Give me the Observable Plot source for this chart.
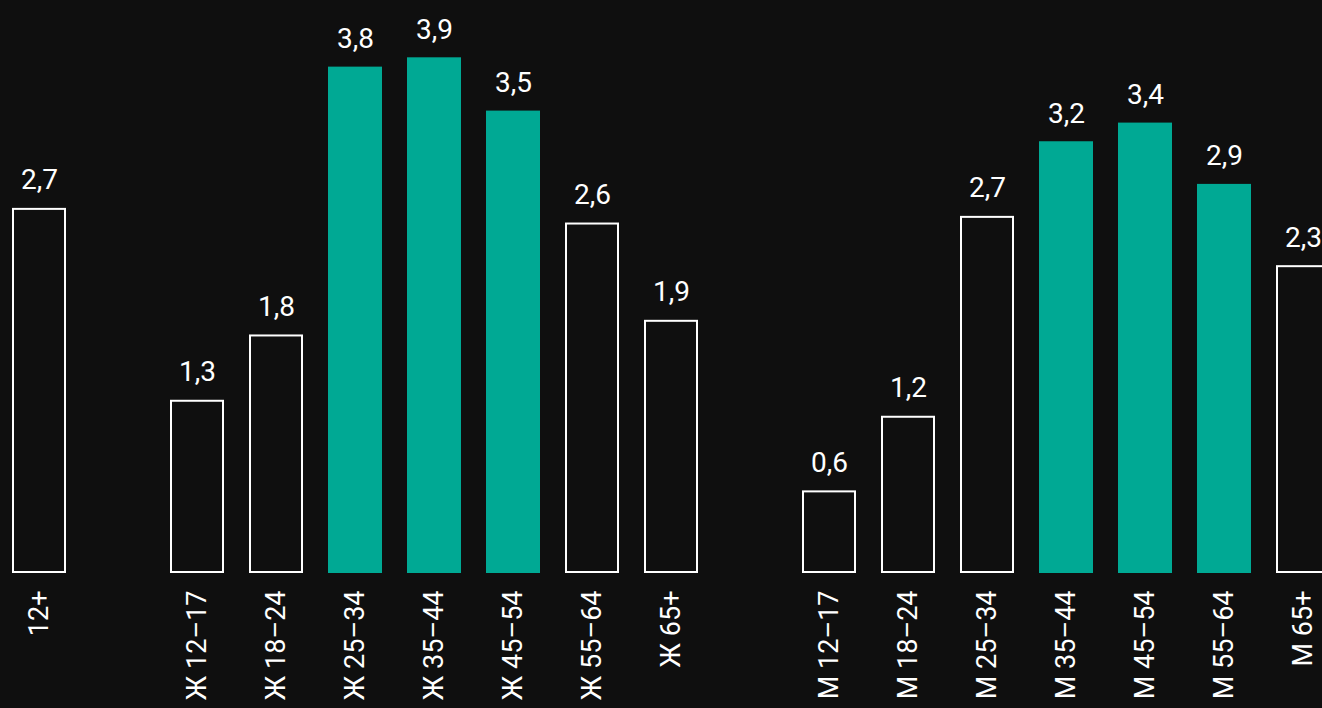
<!DOCTYPE html>
<html>
<head>
<meta charset="utf-8">
<script src="https://cdn.jsdelivr.net/npm/d3@7"></script>
<script src="https://cdn.jsdelivr.net/npm/@observablehq/plot@0.6"></script>
<style>
  html, body { margin: 0; padding: 0; background: #0f0f0f; overflow: hidden; }
  #chart svg { display: block; }
</style>
</head>
<body>
<div id="chart"></div>
<script>
// Slots on the x axis (blank slots are gaps between groups)
const slots = ["12+", "gap1",
  "Ж 12–17", "Ж 18–24", "Ж 25–34", "Ж 35–44", "Ж 45–54", "Ж 55–64", "Ж 65+", "gap2",
  "М 12–17", "М 18–24", "М 25–34", "М 35–44", "М 45–54", "М 55–64", "М 65+"];
const categories = ["12+",
  "Ж 12–17", "Ж 18–24", "Ж 25–34", "Ж 35–44", "Ж 45–54", "Ж 55–64", "Ж 65+",
  "М 12–17", "М 18–24", "М 25–34", "М 35–44", "М 45–54", "М 55–64", "М 65+"];
const values = [2.74,
  1.30, 1.79, 3.80, 3.87, 3.47, 2.63, 1.90,
  0.62, 1.18, 2.68, 3.24, 3.38, 2.92, 2.31];
const highlighted = ["Ж 25–34", "Ж 35–44", "Ж 45–54", "М 35–44", "М 45–54", "М 55–64"];

const data = categories.map((c, i) => ({cat: c, value: values[i], hl: highlighted.includes(c)}));
const fmt = v => d3.format(".1f")(v).replace(".", ",");

const BG = "#0f0f0f", TEAL = "#00a994", WHITE = "#ffffff";
const FONT = "Roboto, 'Noto Sans', sans-serif";

const chart = Plot.plot({
  width: 1322,
  height: 708,
  marginTop: 0,
  marginBottom: 135,
  marginLeft: 0,
  marginRight: 0,
  style: {background: BG, color: WHITE, fontFamily: FONT},
  x: {type: "band", domain: slots, range: [-0.5, 1342.5], paddingInner: 0.3165, paddingOuter: 0.158, align: 0.5},
  y: {domain: [0, 4.3], axis: null},
  marks: [
    Plot.barY(data.filter(d => d.hl), {x: "cat", y: "value", fill: TEAL}),
    Plot.barY(data.filter(d => !d.hl), {x: "cat", y: "value", fill: BG, stroke: WHITE, strokeWidth: 2, inset: 1}),
    Plot.text(data, {x: "cat", y: "value", text: d => fmt(d.value), fill: WHITE, fontSize: 28, lineAnchor: "bottom", dy: -19}),
    Plot.axisX({ticks: categories, tickSize: 0, tickPadding: 17, tickRotate: -90, fontSize: 27, fill: WHITE, label: null})
  ]
});
document.getElementById("chart").appendChild(chart);
</script>
</body>
</html>
